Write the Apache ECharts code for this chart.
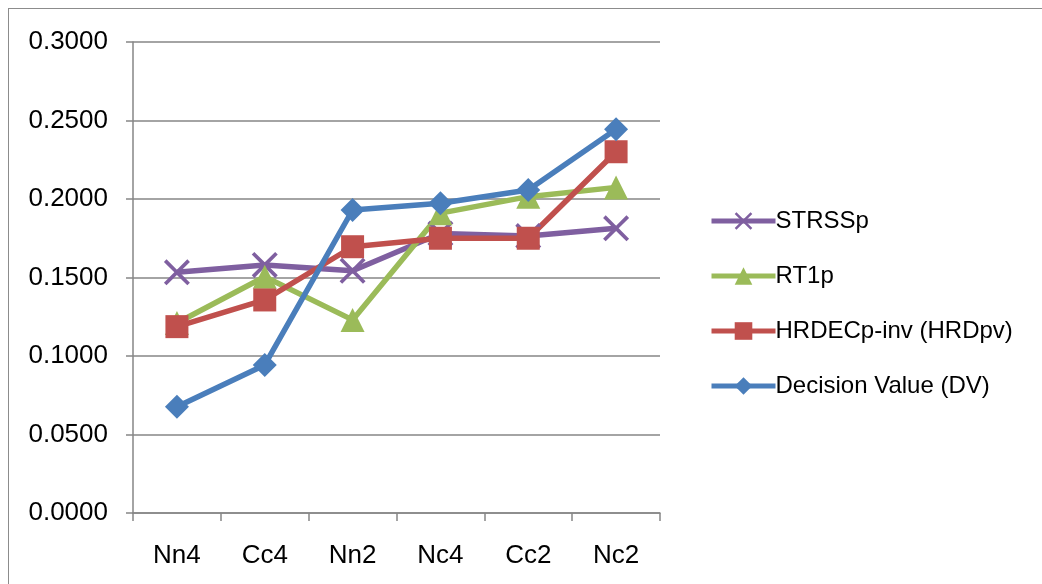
<!DOCTYPE html>
<html>
<head>
<meta charset="utf-8">
<script src="https://cdn.jsdelivr.net/npm/echarts@6/dist/echarts.min.js"></script>
<style>
  html, body { margin: 0; padding: 0; background: #fff; }
  .chart-box {
    position: absolute;
    left: 8px;
    top: 8px;
    width: 1040px;
    height: 584px;
    border: 1.5px solid #8c8c8c;
    box-sizing: border-box;
  }
  #chart { position: absolute; left: 0; top: 0; width: 1042px; height: 584px; }
</style>
</head>
<body>
<div class="chart-box"></div>
<div id="chart"></div>
<script>
// 数据
const categories = ['Nn4', 'Cc4', 'Nn2', 'Nc4', 'Cc2', 'Nc2']
const strssp = [0.1533, 0.1580, 0.1543, 0.1780, 0.1764, 0.1813]
const rt1p = [0.1210, 0.1505, 0.1230, 0.1910, 0.2015, 0.2074]
const hrdpv = [0.1187, 0.1357, 0.1696, 0.1750, 0.1750, 0.2301]
const dv = [0.0677, 0.0943, 0.1930, 0.1973, 0.2057, 0.2444]
const yTicks = [0, 0.05, 0.1, 0.15, 0.2, 0.25, 0.3]

// X 形标记（填充多边形）
const crossIcon = 'path://M0,2L2,0L10,8L18,0L20,2L12,10L20,18L18,20L10,12L2,20L0,18L8,10Z'
const font = 'Liberation Sans'

function lineSeries (name, data, color, symbol, size) {
  return {
    name: name,
    type: 'line',
    data: data,
    symbol: symbol,
    symbolSize: size,
    showAllSymbol: true,
    lineStyle: { color: color, width: 5.5 },
    itemStyle: { color: color },
    z: 2
  }
}

const chart = echarts.init(document.getElementById('chart'))
chart.setOption({
  animation: false,
  textStyle: { fontFamily: font },
  grid: { left: 133, right: 382, top: 42, bottom: 71 },
  legend: {
    orient: 'vertical',
    left: 704,
    top: 204,
    itemWidth: 64,
    itemHeight: 22,
    itemGap: 31,
    lineStyle: { width: 5 },
    textStyle: { fontFamily: font, fontSize: 24, lineHeight: 22, color: '#000', padding: [0, 0, 0, -5] },
    data: ['STRSSp', 'RT1p', 'HRDECp-inv (HRDpv)', 'Decision Value (DV)']
  },
  xAxis: {
    type: 'category',
    data: categories,
    boundaryGap: true,
    axisLine: { lineStyle: { color: '#868686', width: 1.5 } },
    axisTick: { show: true, length: 8, interval: 0, lineStyle: { color: '#868686', width: 1.5 } },
    axisLabel: { color: '#000', fontSize: 26, margin: 30, fontFamily: font }
  },
  yAxis: {
    type: 'value',
    min: yTicks[0],
    max: yTicks[yTicks.length - 1],
    interval: 0.05,
    axisLine: { show: true, lineStyle: { color: '#868686', width: 1.5 } },
    axisTick: { show: true, length: 7, lineStyle: { color: '#868686', width: 1.5 } },
    splitLine: { lineStyle: { color: '#868686', width: 1.5 } },
    axisLabel: {
      color: '#000',
      fontSize: 26,
      margin: 25,
      fontFamily: font,
      formatter: v => v.toFixed(4)
    }
  },
  series: [
    lineSeries('STRSSp', strssp, '#7f5fa0', crossIcon, 26),
    lineSeries('RT1p', rt1p, '#9bbb59', 'triangle', 24),
    lineSeries('HRDECp-inv (HRDpv)', hrdpv, '#c0504d', 'rect', 23),
    lineSeries('Decision Value (DV)', dv, '#4a7ebb', 'diamond', 24)
  ]
})
</script>
</body>
</html>
